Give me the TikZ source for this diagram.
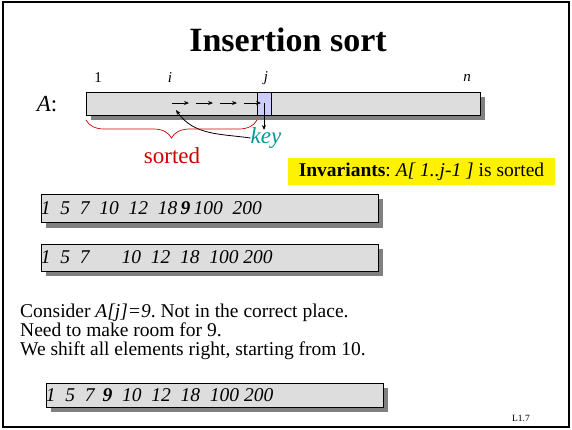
\documentclass[tikz,border=0pt]{standalone}
\usepackage{fontspec}
\setmainfont{Liberation Serif}
\usetikzlibrary{arrows.meta,decorations.pathreplacing,shadows}
\definecolor{barfill}{RGB}{221,221,221}
\definecolor{keyfill}{RGB}{204,204,255}
\definecolor{keyteal}{RGB}{0,153,153}
\definecolor{sortred}{RGB}{204,0,0}
\tikzset{
  arrbox/.style={draw=black, fill=barfill, line width=0.8pt, inner sep=2pt,
    drop shadow={shadow xshift=5pt, shadow yshift=-5pt, fill=gray, opacity=1}},
  arw/.style={-{Stealth[length=5pt,width=4pt]}, line width=0.8pt},
  idx/.style={font=\fontsize{15}{18}\selectfont\itshape},
  nums/.style={font=\fontsize{19.5}{22}\selectfont\itshape, anchor=west},
  line/.style={font=\fontsize{19.5}{22}\selectfont, anchor=base west}
}
\frenchspacing
\begin{document}
\begin{tikzpicture}[x=1pt,y=1pt]
    \useasboundingbox (0,0) rectangle (572,-430);
    \tikzstyle{every node}+=[inner sep=0pt]
    % frame and title
    \draw [line width=2pt] (3,-2) rectangle (569,-427);
    \node (title) at (288,-40) {\fontsize{34}{40}\selectfont\bfseries Insertion sort};
    % the array A
    \node (lblA) at (47,-104) {\fontsize{23}{26}\selectfont\itshape A\upshape:};
    \node [arrbox, minimum width=394, minimum height=23] (bar) at (283,-103.5) {};
    \node [draw=black, fill=keyfill, line width=0.8pt, minimum width=14, minimum height=23] (keycell) at (264,-103.5) {};
    \node [font=\fontsize{15}{18}\selectfont] (one) at (98,-78) {1};
    \node [idx] (ii) at (170,-78) {i};
    \node [idx] (jj) at (266,-78) {j};
    \node [idx] (nn) at (467,-78) {n};
    \coordinate (ipos) at (176,-110);
    \foreach \x in {172,196,220,244}
        \draw [arw] (\x,-103) -- ++(17,0);
    \coordinate (keydown) at (264,-130);
    \draw [arw] (keycell.center) -- (keydown);
    \node [font=\fontsize{23}{26}\selectfont\itshape, text=keyteal] (key) at (266,-138) {key};
    \draw [arw] (key.west) to[out=172,in=-55] (ipos);
    % sorted part
    \draw [sortred, line width=0.7pt, decorate, decoration={brace, mirror, amplitude=18pt}] (86,-120) -- (257,-120);
    \node [font=\fontsize{23}{26}\selectfont, text=sortred] (sorted) at (172,-156) {sorted};
    % invariant
    \node [fill=yellow, minimum width=267, minimum height=27, font=\fontsize{19.5}{22}\selectfont] (inv) at (421.5,-172) {\textbf{Invariants}: \textit{A[ 1..j-1 ]} is sorted};
    % the rows
    \node [arrbox, minimum width=337, minimum height=28] (rowone) at (209.5,-208.5) {};
    \node [nums] (numone) at (rowone.west) {1\ \ 5\ \ 7\ \ 10\ \ 12\ \ 18\,\textbf{9}\,100\ \ 200};
    \node [arrbox, minimum width=337, minimum height=27] (rowtwo) at (209.5,-257.5) {};
    \node [nums] (numtwo) at (rowtwo.west) {1\ \ 5\ \ 7\hspace{32pt}10\ \ 12\ \ 18\ \ 100\ 200};
    \node [line] (lone) at (20,-317) {Consider \textit{A[j]=9}. Not in the correct place.};
    \node [line] (ltwo) at (20,-336) {Need to make room for 9.};
    \node [line] (lthree) at (20,-355) {We shift all elements right, starting from 10.};
    \node [arrbox, minimum width=337, minimum height=24] (rowthree) at (214.5,-395) {};
    \node [nums] (numthree) at (rowthree.west) {1\ \ 5\ \ 7\ \,\textbf{9}\ \ 10\ \ 12\ \ 18\ \ 100\ 200};
    \node [font=\fontsize{9.5}{11}\selectfont] (page) at (521,-418) {L1.7};
\end{tikzpicture}
\end{document}
